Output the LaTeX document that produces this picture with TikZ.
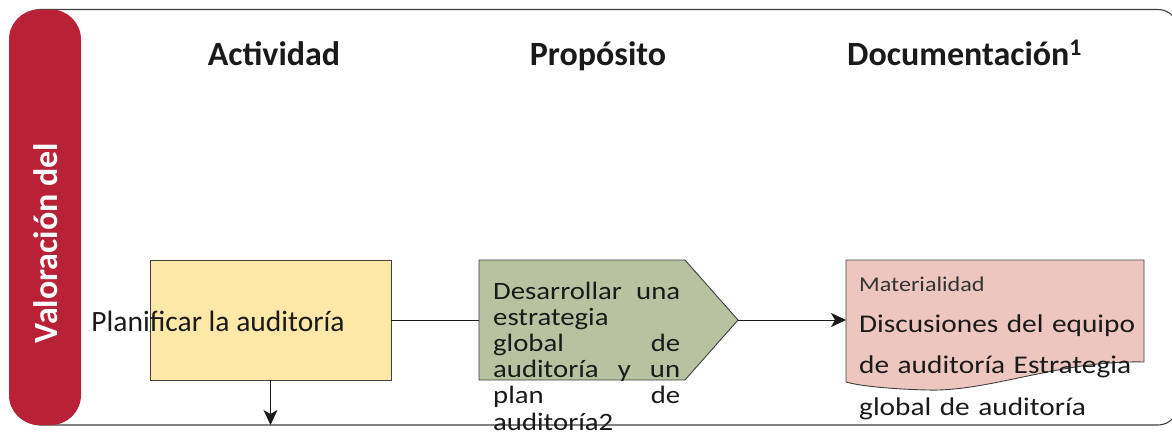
\documentclass[tikz,border=0pt]{standalone}
\usepackage{fontspec}
\setmainfont{Carlito}
\newfontfamily\widefont[FakeStretch=1.15]{Carlito}
\usetikzlibrary{arrows.meta}

\definecolor{crimson}{RGB}{184,33,54}
\definecolor{boxyellow}{RGB}{254,232,168}
\definecolor{boxgreen}{RGB}{183,195,160}
\definecolor{boxpink}{RGB}{237,199,191}
\definecolor{edgegray}{RGB}{64,64,64}
\definecolor{inkblack}{RGB}{26,26,26}

\tikzset{
  frame/.style={draw=edgegray, line width=1.1pt},
  shapebox/.style={draw=edgegray, line width=0.9pt},
  header/.style={font=\bfseries\fontsize{34}{40}\selectfont, text=inkblack, inner sep=0pt},
  bodytext/.style={font=\fontsize{25}{26.2}\selectfont, text=inkblack, inner sep=0pt},
  flow/.style={draw=inkblack, line width=0.9pt},
  tip/.style={-{Stealth[length=15pt,width=14pt,inset=4pt]}}
}

\begin{document}
\begin{tikzpicture}[x=1pt,y=-1pt]
        \useasboundingbox (0,0) rectangle (1172,434);
        \clip (0,0) rectangle (1172,434);

        % Draw the outer frame
        \draw[frame, rounded corners=20pt] (20,9.5) rectangle (1178,425);

        % Draw the red side bar
        \fill[crimson, rounded corners=30pt] (9,9.5) rectangle (81,425);
        \node[rotate=90, text=white, font=\bfseries\fontsize{34}{40}\selectfont, inner sep=0pt] (phase) at (46,243) {Valoración del};

        % Column headers
        \node[header, anchor=base] (hdact) at (274,65) {Actividad};
        \node[header, anchor=base] (hdprop) at (598,65) {Propósito};
        \node[header, anchor=base west] (hddoc) at (847,65) {Documentación\textsuperscript{1}};

        % Activity box
        \node[shapebox, fill=boxyellow, minimum width=241pt, minimum height=120pt, inner sep=0pt] (plan) at (270.5,320) {};
        \node[bodytext, font=\fontsize{29.5}{32}\selectfont, anchor=base] (plantxt) at (218,331) {Planificar la auditoría};

        % Purpose arrow shape
        \draw[shapebox, fill=boxgreen] (479,260) -- (685,260) -- (738,320) -- (685,380) -- (479,380) -- cycle;
        \coordinate (prop-w) at (479,320);
        \coordinate (prop-e) at (738,320);
        \node[bodytext, font=\widefont\fontsize{25}{26.2}\selectfont, text width=187pt, align=justify, anchor=base west] (proptxt) at (493,299)
          {Desarrollar\hfill una\\ estrategia\\ global\hfill de\\ auditoría\hfill y\hfill un\\ plan\hfill de\\ auditoría2};

        % Documentation shape
        \draw[shapebox, fill=boxpink] (846,260) -- (1144,260) -- (1144,362)
          .. controls (1060,360) and (990,392) .. (927,390)
          .. controls (890,389) and (860,386) .. (846,382) -- cycle;
        \coordinate (doc-w) at (846,320);
        \node[bodytext, font=\widefont\fontsize{21}{24}\selectfont, text=black!80, anchor=base west] (doclbl) at (859,291) {Materialidad};
        \node[bodytext, font=\widefont\fontsize{25.5}{41.5}\selectfont, text width=310pt, align=left, anchor=base west] (doctxt) at (859,332)
          {Discusiones del equipo\\ de auditoría Estrategia\\ global de auditoría};

        % Connectors
        \coordinate (next) at (270.5,425);
        \draw[flow] (plan.east) -- (prop-w);
        \draw[flow, tip] (prop-e) -- (doc-w);
        \draw[flow, tip] (plan.south) -- (next);

    \end{tikzpicture}
\end{document}
